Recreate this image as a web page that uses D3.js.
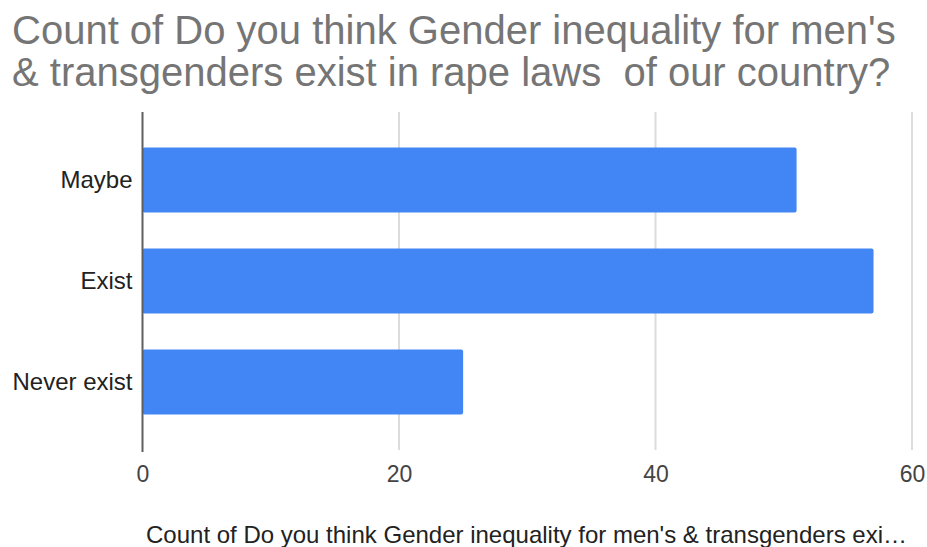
<!DOCTYPE html>
<html>
<head>
<meta charset="utf-8">
<script src="https://cdn.jsdelivr.net/npm/d3@7"></script>
<style>
  html, body { margin: 0; padding: 0; background: #fff; }
  svg { display: block; font-family: "Liberation Sans", Arial, sans-serif; }
</style>
</head>
<body>
<svg id="chart" width="927" height="547"></svg>
<script>
// Survey responses
const categories = ["Maybe", "Exist", "Never exist"];
const counts = [51, 57, 25];
const xTicks = [0, 20, 40, 60];
const titleLines = [
  "Count of Do you think Gender inequality for men's",
  "& transgenders exist in rape laws  of our country?"
];
const xAxisTitle = "Count of Do you think Gender inequality for men's & transgenders exi\u2026";

const svg = d3.select("#chart");
const plot = { left: 142.5, right: 912, top: 112, bottom: 450 };

const x = d3.scaleLinear().domain([0, 60]).range([plot.left, plot.right]);
const y = d3.scaleBand().domain(categories)
  .range([plot.top, plot.bottom])
  .paddingInner(0.356)
  .paddingOuter(0.35);

// Title
svg.append("g").selectAll("text").data(titleLines).join("text")
  .attr("x", 12)
  .attr("y", (d, i) => 44 + i * 42)
  .attr("font-size", 40)
  .attr("fill", "#757575")
  .style("white-space", "pre")
  .text(d => d);

// Vertical gridlines
svg.append("g").selectAll("line").data(xTicks.filter(t => t > 0)).join("line")
  .attr("x1", d => x(d)).attr("x2", d => x(d))
  .attr("y1", plot.top).attr("y2", plot.bottom)
  .attr("stroke", "#dcdcdc")
  .attr("stroke-width", 2);

// Bars
svg.append("g").selectAll("rect").data(categories).join("rect")
  .attr("x", x(0))
  .attr("y", d => y(d))
  .attr("width", (d, i) => x(counts[i]) - x(0))
  .attr("height", y.bandwidth())
  .attr("rx", 2)
  .attr("fill", "#4285f4");

// Baseline at zero
svg.append("line")
  .attr("x1", x(0)).attr("x2", x(0))
  .attr("y1", plot.top).attr("y2", plot.bottom + 2)
  .attr("stroke", "#5f5f5f")
  .attr("stroke-width", 2);

// Category axis
const yAxis = svg.append("g")
  .attr("transform", `translate(${x(0)},0)`)
  .call(d3.axisLeft(y).tickSize(0).tickPadding(10));
yAxis.select(".domain").remove();
yAxis.selectAll("text")
  .attr("font-size", 24)
  .attr("font-family", "Liberation Sans, Arial, sans-serif")
  .attr("fill", "#222");

// Value axis
const xAxis = svg.append("g")
  .attr("transform", `translate(0,${plot.bottom})`)
  .call(d3.axisBottom(x).tickValues(xTicks).tickSize(0).tickPadding(16));
xAxis.select(".domain").remove();
xAxis.selectAll("text")
  .attr("font-size", 23)
  .attr("font-family", "Liberation Sans, Arial, sans-serif")
  .attr("fill", "#444");

// Value axis title
svg.append("text")
  .attr("x", 526.5)
  .attr("y", 543)
  .attr("text-anchor", "middle")
  .attr("font-size", 24)
  .attr("fill", "#222")
  .text(xAxisTitle);
</script>
</body>
</html>
